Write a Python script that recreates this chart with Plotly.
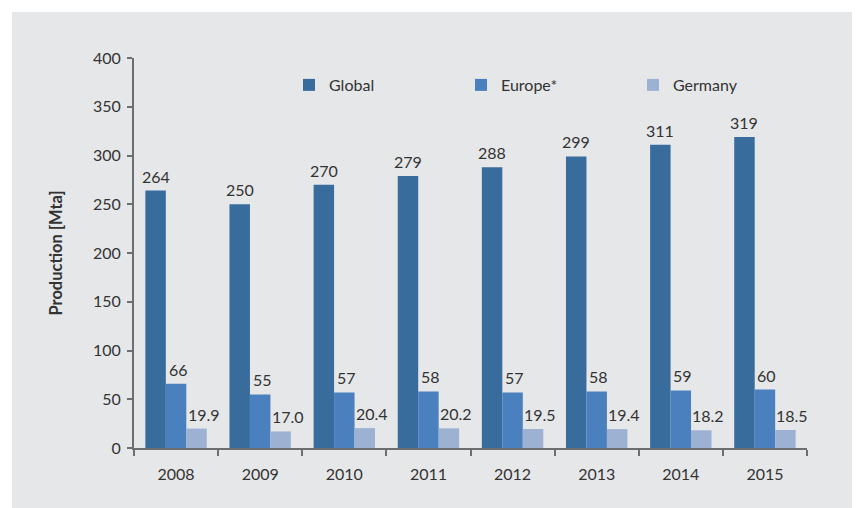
import plotly.graph_objects as go

years = ["2008", "2009", "2010", "2011", "2012", "2013", "2014", "2015"]
global_vals = [264, 250, 270, 279, 288, 299, 311, 319]
europe_vals = [66, 55, 57, 58, 57, 58, 59, 60]
germany_vals = [19.9, 17.0, 20.4, 20.2, 19.5, 19.4, 18.2, 18.5]

series = [
    ("Global", global_vals, "#376c9d", "{:.0f}"),
    ("Europe*", europe_vals, "#4a80be", "{:.0f}"),
    ("Germany", germany_vals, "#9db2d3", "{:.1f}"),
]

W, H = 856, 508
ML, MR, MT, MB = 134, 49, 58, 60
PW, PH = W - ML - MR, H - MT - MB
BARGAP = 0.27
FONT = "Lato"
TXT = "#333333"

fig = go.Figure()
bar_px = PW / len(years) * (1 - BARGAP) / len(series)
label_nudge = [0, 2, 7]
for si, (name, vals, color, fmt) in enumerate(series):
    fig.add_trace(go.Bar(
        x=years, y=vals, name=name,
        marker=dict(color=color, line=dict(width=0)),
        hoverinfo="x+y+name",
    ))
    for ci, v in enumerate(vals):
        # category axis: annotation x is the category's serial index
        fig.add_annotation(
            x=ci, y=v, xref="x", yref="y",
            text=fmt.format(v), showarrow=False,
            xanchor="center", yanchor="bottom",
            xshift=(si - 1) * bar_px + label_nudge[si], yshift=3,
            font=dict(family=FONT, size=16, color=TXT),
        )

def px_to_paper_x(px):
    return (px - ML) / PW

def px_to_paper_y(py):
    return (H - MB - py) / PH

fig.add_shape(type="rect", xref="paper", yref="paper",
              x0=px_to_paper_x(12), x1=px_to_paper_x(852),
              y0=px_to_paper_y(508), y1=px_to_paper_y(12),
              fillcolor="#e6e7e9", line=dict(width=0), layer="below")

fig.update_layout(
    width=W, height=H,
    margin=dict(l=ML, r=MR, t=MT, b=MB),
    paper_bgcolor="white",
    plot_bgcolor="white",
    barmode="group",
    bargap=BARGAP,
    bargroupgap=0,
    font=dict(family=FONT, size=16, color=TXT),
    legend=dict(
        orientation="h",
        x=px_to_paper_x(289), xanchor="left",
        y=px_to_paper_y(85), yanchor="middle",
        entrywidth=127, entrywidthmode="pixels",
        font=dict(family=FONT, size=16, color=TXT),
        bgcolor="rgba(0,0,0,0)",
        itemclick=False,
    ),
    showlegend=True,
)

fig.update_xaxes(
    type="category", categoryorder="array", categoryarray=years,
    range=[-0.5, len(years) - 0.5],
    showline=True, linecolor="#6d6e71", linewidth=2,
    ticks="outside", tickson="boundaries", ticklen=6, tickwidth=1.5, tickcolor="#6d6e71",
    tickfont=dict(family=FONT, size=16, color=TXT),
    ticklabelstandoff=11, tickangle=0,
    showgrid=False,
)
fig.update_yaxes(
    range=[0, 400], dtick=50,
    showline=True, linecolor="#6d6e71", linewidth=2,
    ticks="outside", ticklen=5, tickwidth=1.5, tickcolor="#6d6e71",
    tickfont=dict(family=FONT, size=16, color=TXT),
    ticklabelstandoff=3,
    showgrid=False, zeroline=False,
    title=dict(text="<b>Production [Mta]</b>", font=dict(family=FONT, size=16.5, color=TXT), standoff=26),
)

fig.write_html("out.html")
